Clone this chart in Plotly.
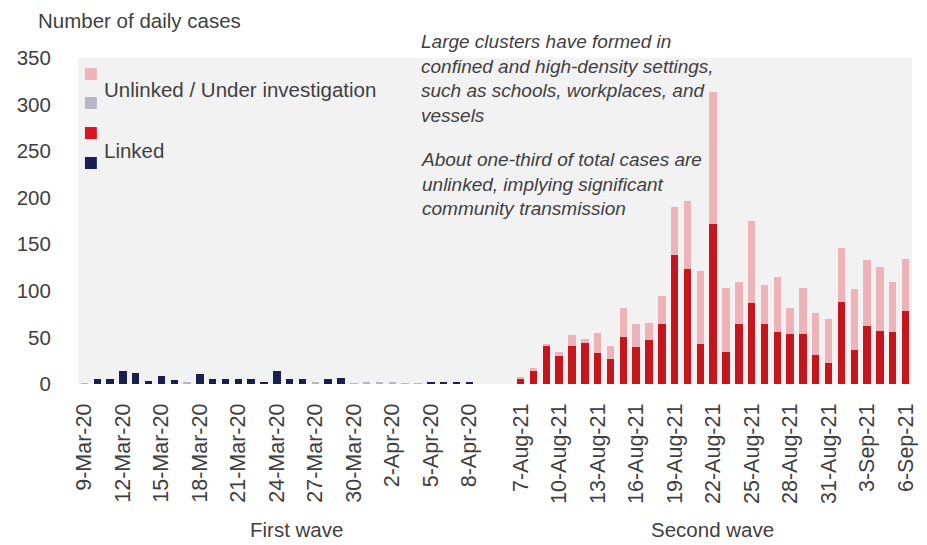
import pandas as pd
import plotly.graph_objects as go

# ---- data -------------------------------------------------------------
# First wave: 9-Mar-20 .. 8-Apr-20 (daily)
first_dates = pd.date_range("2020-03-09", "2020-04-08", freq="D")
first_linked = [0, 5, 5, 14, 12, 3, 9, 4, 0, 11,
                5, 5, 5, 5, 2, 14, 5, 5, 0, 5,
                6, 0, 0, 0, 0, 0, 0, 2, 2, 2, 2]
first_unlinked = [1, 0, 0, 0, 0, 0, 0, 0, 2, 0,
                  0, 0, 0, 0, 0, 0, 0, 0, 2, 0,
                  0, 1, 2, 2, 2, 1, 1, 0, 0, 0, 0]

# Second wave: 7-Aug-21 .. 6-Sep-21 (daily)
second_dates = pd.date_range("2021-08-07", "2021-09-06", freq="D")
second_linked = [6, 14, 41, 30, 41, 44, 33, 27, 51, 40,
                 47, 64, 139, 124, 43, 172, 34, 64, 87, 64,
                 56, 54, 54, 31, 23, 88, 36, 62, 57, 56, 78]
second_unlinked = [1, 3, 1, 4, 12, 4, 22, 14, 31, 24,
                   18, 30, 51, 72, 78, 142, 69, 46, 88, 42,
                   59, 28, 49, 45, 47, 58, 66, 71, 69, 54, 56]

GAP = 3          # empty day slots between the two waves
LABEL_EVERY = 3  # one date label every third day

y_ticks = [0, 50, 100, 150, 200, 250, 300, 350]

# ---- styling ----------------------------------------------------------
FONT = "Liberation Sans, Arial, sans-serif"
TXT = "#3f3f3f"
NAVY = "#1b1f4e"
GREY = "#b5b7c7"
RED = "#c5161d"
PINK = "#edb3b8"
LEG_RED = "#dc1420"
LEG_PINK = "#f2b2b9"

W, H = 927, 545
ML, MR, MT, MB = 78, 9, 58, 161
PW, PH = W - ML - MR, H - MT - MB


def fmt(d):
    return f"{d.day}-{d.strftime('%b')}-{d.strftime('%y')}"


x_first = list(range(len(first_dates)))
x_second = [len(first_dates) + GAP + i for i in range(len(second_dates))]

tickvals = x_first[::LABEL_EVERY] + x_second[::LABEL_EVERY]
ticktext = [fmt(d) for d in first_dates[::LABEL_EVERY]] + \
           [fmt(d) for d in second_dates[::LABEL_EVERY]]

fig = go.Figure()
fig.add_bar(x=x_first, y=first_linked, marker_color=NAVY, name="Linked",
            showlegend=False)
fig.add_bar(x=x_first, y=first_unlinked, marker_color=GREY,
            name="Unlinked / Under investigation", showlegend=False)
fig.add_bar(x=x_second, y=second_linked, marker_color=RED, name="Linked",
            showlegend=False)
fig.add_bar(x=x_second, y=second_unlinked, marker_color=PINK,
            name="Unlinked / Under investigation", showlegend=False)
fig.update_traces(marker_line_width=0)


def px(xp):
    return (xp - ML) / PW


def py(yp):
    return (MT + PH - yp) / PH


# legend: two swatches per entry
shapes = []
for (top, col) in [(68, LEG_PINK), (97, GREY), (127, LEG_RED), (157, NAVY)]:
    shapes.append(dict(type="rect", xref="paper", yref="paper",
                       x0=px(85), x1=px(97), y0=py(top + 12), y1=py(top),
                       fillcolor=col, line_width=0, layer="above"))

annotations = [
    dict(text="Unlinked / Under investigation", x=px(102), y=py(89),
         xanchor="left", yanchor="middle", font=dict(size=20.5, color=TXT)),
    dict(text="Linked", x=px(102), y=py(150),
         xanchor="left", yanchor="middle", font=dict(size=20.5, color=TXT)),
    dict(text="Number of daily cases", x=px(36), y=py(20),
         xanchor="left", yanchor="middle", font=dict(size=20.5, color=TXT)),
    dict(text="<i>Large clusters have formed in<br>confined and high-density settings,"
              "<br>such as schools, workplaces, and<br>vessels</i>",
         x=px(421), y=py(29), xanchor="left", yanchor="top", align="left",
         font=dict(size=19, color=TXT)),
    dict(text="<i>About one-third of total cases are<br>unlinked, implying significant"
              "<br>community transmission</i>",
         x=px(421), y=py(147), xanchor="left", yanchor="top", align="left",
         font=dict(size=19, color=TXT)),
    dict(text="First wave", x=px(298), y=py(529), xanchor="center",
         yanchor="middle", font=dict(size=20.5, color=TXT)),
    dict(text="Second wave", x=px(717), y=py(529), xanchor="center",
         yanchor="middle", font=dict(size=20.5, color=TXT)),
]
for a in annotations:
    a.update(xref="paper", yref="paper", showarrow=False)

fig.update_layout(
    width=W, height=H, autosize=False,
    margin=dict(l=ML, r=MR, t=MT, b=MB, pad=0),
    paper_bgcolor="white", plot_bgcolor="#f2f2f2",
    barmode="stack", bargap=0.42,
    font=dict(family=FONT, color=TXT, size=20),
    shapes=shapes, annotations=annotations,
    xaxis=dict(range=[-0.5, x_second[-1] + 0.5], tickmode="array",
               tickvals=tickvals, ticktext=ticktext, tickangle=-90,
               showgrid=False, zeroline=False, showline=False,
               ticks="outside", ticklen=10, tickcolor="white",
               tickfont=dict(size=21.5, color=TXT, family=FONT)),
    yaxis=dict(range=[0, 350], tickmode="array", tickvals=y_ticks,
               showgrid=False, zeroline=False, showline=False,
               ticks="outside", ticklen=22, tickcolor="white",
               tickfont=dict(size=20.5, color=TXT, family=FONT)),
)

fig.write_html("out.html")
